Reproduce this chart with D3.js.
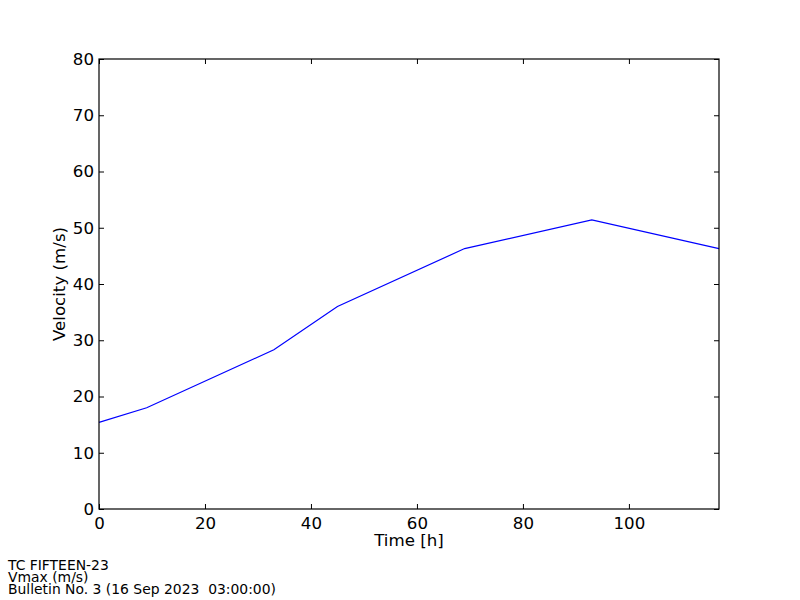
<!DOCTYPE html>
<html><head><meta charset="utf-8">
<script src="https://cdn.jsdelivr.net/npm/d3@7"></script>
<style>body{margin:0;background:#fff}svg{display:block}text{font-family:"DejaVu Sans",sans-serif;white-space:pre}</style>
</head><body>
<svg id="c" width="800" height="600"></svg>
<script>
const hours = [0, 9, 33, 45, 69, 93, 117];
const vmax = [15.4, 18.0, 28.3, 36.0, 46.3, 51.4, 46.3];
const xTicks = [0, 20, 40, 60, 80, 100];
const yTicks = [0, 10, 20, 30, 40, 50, 60, 70, 80];
const footer = ["TC FIFTEEN-23", "Vmax (m/s)", "Bulletin No. 3 (16 Sep 2023  03:00:00)"];

const svg = d3.select("#c");
const L = 99, R = 719, T = 59, B = 509;
const x = d3.scaleLinear().domain([0, 117]).range([L, R]);
const y = d3.scaleLinear().domain([0, 80]).range([B, T]);

svg.append("path")
  .datum(hours.map((h, i) => [h, vmax[i]]))
  .attr("fill", "none").attr("stroke", "#0000ff").attr("stroke-width", 1.2)
  .attr("d", d3.line().x(d => x(d[0])).y(d => y(d[1])));

const fs = 16.67;
const gx = svg.append("g").attr("transform", `translate(0,${B})`)
  .call(d3.axisBottom(x).tickValues(xTicks).tickSize(-5).tickPadding(8).tickFormat(d3.format("d")));
const gxt = svg.append("g").attr("transform", `translate(0,${T})`)
  .call(d3.axisTop(x).tickValues(xTicks).tickSize(-5).tickFormat(""));
const gy = svg.append("g").attr("transform", `translate(${L},0)`)
  .call(d3.axisLeft(y).tickValues(yTicks).tickSize(-5).tickPadding(5).tickFormat(d3.format("d")));
const gyr = svg.append("g").attr("transform", `translate(${R},0)`)
  .call(d3.axisRight(y).tickValues(yTicks).tickSize(-5).tickFormat(""));
[gx, gxt, gy, gyr].forEach(g => {
  g.select(".domain").remove();
  g.selectAll(".tick line").attr("stroke", "#000").attr("stroke-width", 1);
  g.selectAll("text").attr("font-size", fs).attr("fill", "#000").style("font-family", "DejaVu Sans");
});

svg.append("rect").attr("x", L).attr("y", T).attr("width", R - L).attr("height", B - T)
  .attr("fill", "none").attr("stroke", "#000").attr("stroke-width", 1.2);

svg.append("text").attr("x", (L + R) / 2).attr("y", 546).attr("text-anchor", "middle")
  .attr("font-size", fs).text("Time [h]");
svg.append("text").attr("transform", `translate(65,${(T + B) / 2}) rotate(-90)`)
  .attr("text-anchor", "middle").attr("font-size", fs).text("Velocity (m/s)");

svg.append("g").selectAll("text").data(footer).join("text")
  .attr("x", 8).attr("y", (d, i) => 570 + i * 12).attr("font-size", 13.9)
  .attr("xml:space", "preserve").text(d => d);
</script>
</body></html>
